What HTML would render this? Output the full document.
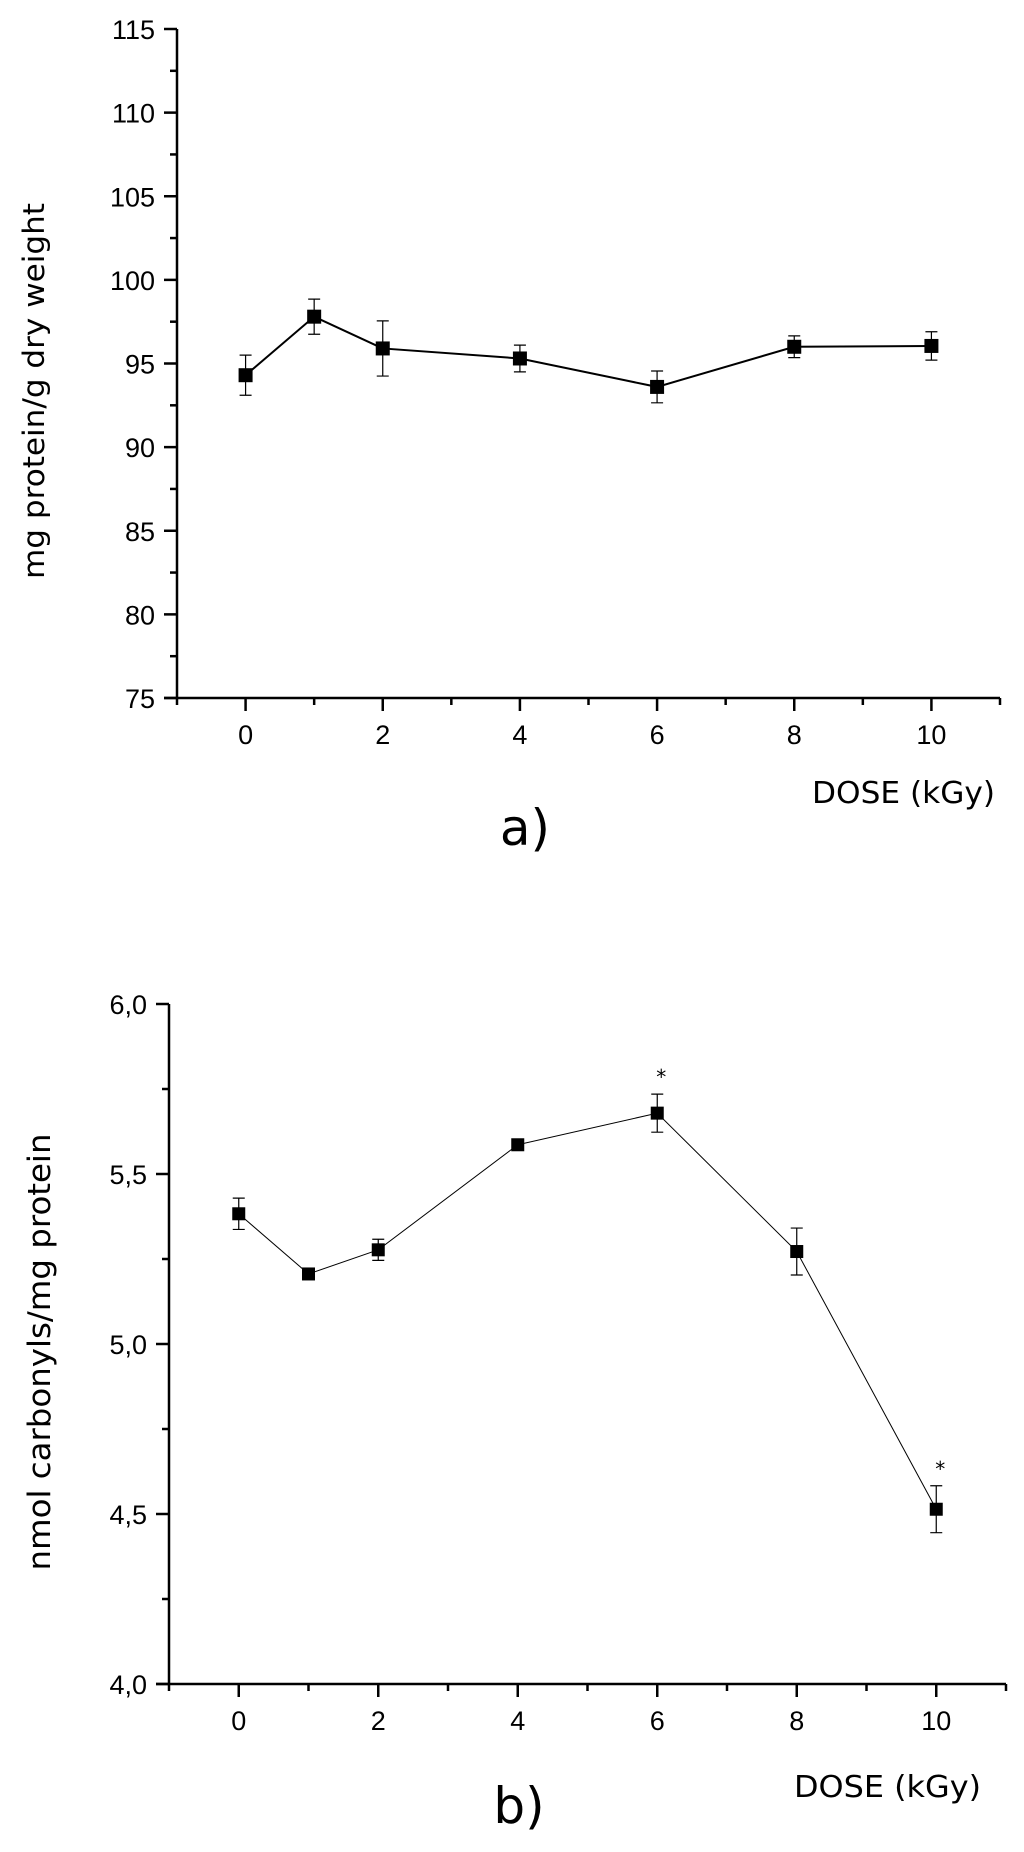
<!DOCTYPE html>
<html><head><meta charset="utf-8"><style>
html,body{margin:0;padding:0;background:#fff}
svg{display:block}
text{font-family:"DejaVu Sans","Liberation Sans",sans-serif;fill:#000}
text.tk{font-family:"Liberation Sans","DejaVu Sans",sans-serif}
</style></head><body>
<svg id="svg" width="1024" height="1852" viewBox="0 0 1024 1852" xmlns="http://www.w3.org/2000/svg">
<g id="ca"></g>
<g id="cb"></g>
</svg>
<script>
const doses = [0, 1, 2, 4, 6, 8, 10];
const proteinValues = [94.3, 97.8, 95.9, 95.3, 93.6, 96.0, 96.05];
const proteinErrors = [1.2, 1.05, 1.65, 0.8, 0.95, 0.65, 0.85];
const carbonylValues = [5.383, 5.206, 5.277, 5.586, 5.679, 5.272, 4.514];
const carbonylErrors = [0.046, 0, 0.031, 0, 0.056, 0.069, 0.069];
const carbonylSignificant = [false, false, false, false, true, false, true];
const xTickLabels = ["0", "2", "4", "6", "8", "10"];
const yTicksA = [75, 80, 85, 90, 95, 100, 105, 110, 115];
const yTicksB = [4.0, 4.5, 5.0, 5.5, 6.0];
const yTickLabelsB = ["4,0", "4,5", "5,0", "5,5", "6,0"];

const NS = "http://www.w3.org/2000/svg";
function mk(parent, tag, attrs, txt){
  const e = document.createElementNS(NS, tag);
  for (const k in attrs) e.setAttribute(k, attrs[k]);
  if (txt !== undefined) e.textContent = txt;
  parent.appendChild(e);
  return e;
}

function drawChart(g, cfg){
  const sx = v => cfg.x0 + (v - cfg.xmin) * (cfg.x1 - cfg.x0) / (cfg.xmax - cfg.xmin);
  const sy = v => cfg.y0 + (v - cfg.ymin) * (cfg.y1 - cfg.y0) / (cfg.ymax - cfg.ymin);
  const ya = mk(g, "line", {x1: cfg.x0, y1: cfg.y0, x2: cfg.x0, y2: cfg.y1, stroke: "#000", "stroke-width": 2.5});
  
  
  const xa = mk(g, "line", {x1: cfg.x0 - 13, y1: cfg.y0, x2: cfg.x1, y2: cfg.y0, stroke: "#000", "stroke-width": 2.5});
  
  
  for (let v = cfg.xmin; v <= cfg.xmax; v++) {
    const major = (v % 2 === 0) && v >= 0;
    const t = mk(g, "line", {x1: sx(v), y1: cfg.y0, x2: sx(v), y2: cfg.y0 + (major ? 13 : 7), stroke: "#000", "stroke-width": 2.5});
    
    
  }
  xTickLabels.forEach(l => {
    const t = mk(g, "text", {class: "tk", x: sx(+l), y: cfg.xLabelY, "font-size": 27, "text-anchor": "middle"}, l);
    
    
  });
  const step = cfg.yTicks[1] - cfg.yTicks[0];
  for (let i = 0; i < cfg.yTicks.length; i++) {
    const v = cfg.yTicks[i];
    const t = mk(g, "line", {x1: cfg.x0 - 13, y1: sy(v), x2: cfg.x0, y2: sy(v), stroke: "#000", "stroke-width": 2.5});
    
    
    if (i < cfg.yTicks.length - 1) {
      const m = mk(g, "line", {x1: cfg.x0 - 7, y1: sy(v + step / 2), x2: cfg.x0, y2: sy(v + step / 2), stroke: "#000", "stroke-width": 2.5});
      
      
    }
    const lb = mk(g, "text", {class: "tk", x: cfg.x0 - 22, y: sy(v) + 10, "font-size": 27, "text-anchor": "end"}, cfg.yLabels[i]);
    
    
  }
  const pts = doses.map((d, i) => sx(d) + "," + sy(cfg.values[i])).join(" ");
  const pl = mk(g, "polyline", {points: pts, fill: "none", stroke: "#000", "stroke-width": cfg.lw});
  
  
  doses.forEach((d, i) => {
    const x = sx(d), v = cfg.values[i], e = cfg.errors[i];
    if (e > 0) {
      const eg = mk(g, "path", {d: `M${x},${sy(v+e)}V${sy(v-e)}M${x-6},${sy(v+e)}H${x+6}M${x-6},${sy(v-e)}H${x+6}`, stroke: "#000", "stroke-width": 1.2, fill: "none"});
      
      
    }
    const r = mk(g, "rect", {x: x - cfg.ms / 2, y: sy(v) - cfg.ms / 2, width: cfg.ms, height: cfg.ms, fill: "#000"});
    
    
    if (cfg.sig && cfg.sig[i]) {
      const s = mk(g, "text", {x: x + 4, y: sy(v + e) - 10, "font-size": 20, "text-anchor": "middle"}, "*");
      
      
    }
  });
  const xt = mk(g, "text", {x: cfg.doseX, y: cfg.doseY, "font-size": 30, textLength: cfg.doseW, lengthAdjust: "spacingAndGlyphs"}, "DOSE (kGy)");
  
  
  const yt = mk(g, "text", {x: 0, y: 0, "font-size": cfg.ytFont, "text-anchor": "middle", textLength: cfg.ytW, lengthAdjust: "spacingAndGlyphs", transform: `translate(${cfg.ytX},${cfg.ytY}) rotate(-90)`}, cfg.yTitle);
  
  
  const pt = mk(g, "text", {x: cfg.panelX, y: cfg.panelY, "font-size": 50, "text-anchor": "middle"}, cfg.panel);
  
  
}

drawChart(document.getElementById("ca"), {
  x0: 177, x1: 1000, xmin: -1, xmax: 11, y0: 698, y1: 29, ymin: 75, ymax: 115,
  yTicks: yTicksA, yLabels: yTicksA.map(String), values: proteinValues, errors: proteinErrors,
  lw: 2, ms: 14, xLabelY: 744, doseX: 812, doseY: 803, doseW: 183,
  yTitle: "mg protein/g dry weight", ytX: 44, ytY: 391, ytW: 376, ytFont: 29,
  panel: "a)", panelX: 525, panelY: 845
});
drawChart(document.getElementById("cb"), {
  x0: 169, x1: 1006, xmin: -1, xmax: 11, y0: 1684, y1: 1004, ymin: 4.0, ymax: 6.0,
  yTicks: yTicksB, yLabels: yTickLabelsB, values: carbonylValues, errors: carbonylErrors, sig: carbonylSignificant,
  lw: 1, ms: 13, xLabelY: 1730, doseX: 794, doseY: 1797, doseW: 187,
  yTitle: "nmol carbonyls/mg protein", ytX: 50, ytY: 1352, ytW: 437, ytFont: 31,
  panel: "b)", panelX: 519, panelY: 1823
});
</script>
</body></html>
